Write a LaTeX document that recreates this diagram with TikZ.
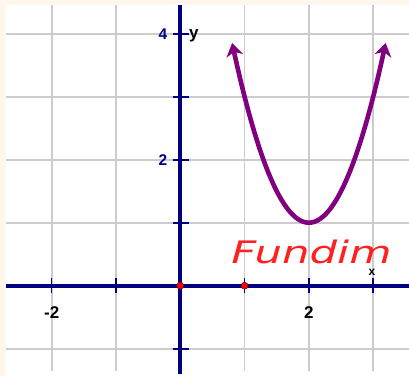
\documentclass[tikz,border=0pt]{standalone}
\usepackage{fontspec}
\setmainfont{Liberation Sans}
\newfontfamily\handfont{DejaVu Sans}
\usetikzlibrary{arrows.meta}
\definecolor{navyax}{RGB}{0,0,128}
\definecolor{gridg}{RGB}{204,204,204}
\definecolor{purp}{RGB}{128,0,128}
\definecolor{peach}{RGB}{255,246,238}
\definecolor{redink}{RGB}{255,32,32}
\tikzset{
  gridline/.style={draw=gridg, line width=1.8pt},
  axisline/.style={draw=navyax, line width=3.6pt},
  tickline/.style={draw=navyax, line width=1.6pt},
  ylab/.style={text=navyax, font=\bfseries\fontsize{15.5}{15.5}\selectfont, inner sep=0pt},
  xlab/.style={text=black, font=\bfseries\fontsize{17}{17}\selectfont, inner sep=0pt},
  dotmark/.style={circle, fill=red, draw={rgb,255:red,120;green,0;blue,0}, line width=0.5pt, inner sep=0pt, minimum size=7pt},
  curve/.style={draw=purp, line width=4.6pt, {Stealth[length=13pt,width=17pt,inset=4pt]}-{Stealth[length=13pt,width=17pt,inset=4pt]}},
}
\begin{document}
\begin{tikzpicture}[x=64.3pt, y=63pt]
\useasboundingbox (-2.804,-1.433) rectangle (3.557,4.535);
\fill[peach] (-2.804,-1.433) rectangle (3.557,4.535);
\fill[white] (-2.711,-1.433) rectangle (3.557,4.456);
% grid
\foreach \gx in {-2,-1,1,2,3} \draw[gridline] (\gx,4.456) -- (\gx,-1.354);
\foreach \gy in {-1,1,2,3,4} \draw[gridline] (-2.711,\gy) -- (3.557,\gy);
% axes
\draw[axisline] (-2.711,0) -- (3.557,0);
\draw[axisline] (0,4.456) -- (0,-1.40);
\foreach \gx in {-2,-1,1,2,3} \draw[tickline] (\gx,-0.12) -- (\gx,0.12);
\foreach \gy in {-1,1,2,3,4} \draw[tickline] (-0.12,\gy) -- (0.14,\gy);
% labels
\node[ylab] (l4) at (-0.27,4.0) {4};
\node[ylab] (l2y) at (-0.27,2.0) {2};
\node[xlab] (lm2) at (-2.0,-0.43) {-2};
\node[xlab] (l2x) at (2.0,-0.42) {2};
\node[xlab] (ylbl) at (0.21,3.97) {y};
\node[text=black, font=\bfseries\fontsize{12}{12}\selectfont, inner sep=0pt] (xlbl) at (2.98,0.22) {x};
% points
\node[dotmark] (p0) at (0,0) {};
\node[dotmark] (p1) at (1,0) {};
% parabola
\draw[curve] plot[domain=0.806:3.194, samples=80, smooth] (\x,{2*(\x-2)^2+1});
% handwritten label
\node[text=redink, font=\handfont\itshape\fontsize{31}{31}\selectfont, inner sep=0pt, xscale=1.4] (fund) at (2.04,0.53) {Fundim};
\end{tikzpicture}
\end{document}
